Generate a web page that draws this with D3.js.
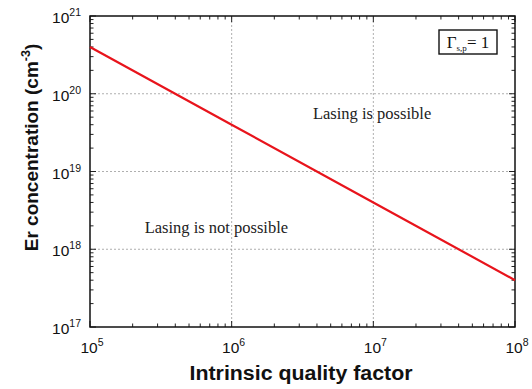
<!DOCTYPE html>
<html>
<head>
<meta charset="utf-8">
<script src="https://cdn.jsdelivr.net/npm/d3@7"></script>
<style>
  html, body { margin: 0; padding: 0; background: #fff; }
  svg { display: block; }
</style>
</head>
<body>
<svg id="chart" width="532" height="389"></svg>
<script>
// Threshold Er concentration vs intrinsic Q (log-log)
const qualityFactor = [1e5, 1e6, 1e7, 1e8];
const erConcentration = [4e20, 4e19, 4e18, 4e17];
const xDecades = [5, 6, 7, 8];
const yDecades = [17, 18, 19, 20, 21];
const regionLabels = [
  { text: "Lasing is possible", q: 9.8e6, n: 4.8e19 },
  { text: "Lasing is not possible", q: 7.8e5, n: 1.6e18 }
];

const W = 532, H = 389;
const m = { left: 90, right: 17, top: 16, bottom: 62 };
const svg = d3.select("#chart");

const x = d3.scaleLog().domain([1e5, 1e8]).range([m.left, W - m.right]);
const y = d3.scaleLog().domain([1e17, 1e21]).range([H - m.bottom, m.top]);

const x0 = x.range()[0], x1 = x.range()[1];
const y0 = y.range()[0], y1 = y.range()[1];

// minor tick values within each decade
function minorTicks(lo, hi) {
  const out = [];
  for (let e = lo; e < hi; e++) {
    for (let k = 2; k <= 9; k++) out.push(k * Math.pow(10, e));
  }
  return out;
}
const xMinor = minorTicks(5, 8);
const yMinor = minorTicks(17, 21);

// dotted grid at each decade
const grid = svg.append("g").attr("stroke", "#9a9a9a").attr("stroke-width", 0.8)
  .attr("stroke-dasharray", "2,2");
xDecades.slice(1, -1).forEach(d => {
  const px = x(Math.pow(10, d));
  grid.append("line").attr("x1", px).attr("x2", px).attr("y1", y0).attr("y2", y1);
});
yDecades.slice(1, -1).forEach(d => {
  const py = y(Math.pow(10, d));
  grid.append("line").attr("x1", x0).attr("x2", x1).attr("y1", py).attr("y2", py);
});

// inward ticks on all four sides
const ticks = svg.append("g").attr("stroke", "#222").attr("stroke-width", 1);
xMinor.forEach(v => {
  const px = x(v);
  ticks.append("line").attr("x1", px).attr("x2", px).attr("y1", y0).attr("y2", y0 - 3.5);
  ticks.append("line").attr("x1", px).attr("x2", px).attr("y1", y1).attr("y2", y1 + 3.5);
});
xDecades.forEach(d => {
  const px = x(Math.pow(10, d));
  ticks.append("line").attr("x1", px).attr("x2", px).attr("y1", y0).attr("y2", y0 - 6);
  ticks.append("line").attr("x1", px).attr("x2", px).attr("y1", y1).attr("y2", y1 + 6);
});
yMinor.forEach(v => {
  const py = y(v);
  ticks.append("line").attr("x1", x0).attr("x2", x0 + 3.5).attr("y1", py).attr("y2", py);
  ticks.append("line").attr("x1", x1).attr("x2", x1 - 3.5).attr("y1", py).attr("y2", py);
});
yDecades.forEach(d => {
  const py = y(Math.pow(10, d));
  ticks.append("line").attr("x1", x0).attr("x2", x0 + 6).attr("y1", py).attr("y2", py);
  ticks.append("line").attr("x1", x1).attr("x2", x1 - 6).attr("y1", py).attr("y2", py);
});

// frame
svg.append("rect").attr("x", x0).attr("y", y1).attr("width", x1 - x0).attr("height", y0 - y1)
  .attr("fill", "none").attr("stroke", "#111").attr("stroke-width", 1.5);

// threshold line
const line = d3.line().x((d, i) => x(qualityFactor[i])).y(d => y(d));
svg.append("path").datum(erConcentration).attr("d", line)
  .attr("fill", "none").attr("stroke", "#e8141c").attr("stroke-width", 2.2);

// tick labels: 10 with superscript exponent
const sans = "Liberation Sans, Arial, Helvetica, sans-serif";
function powerLabel(g, px, py, exp, anchor) {
  const t = g.append("text").attr("x", px).attr("y", py).attr("text-anchor", anchor)
    .attr("font-family", sans).attr("font-size", 15.5).attr("fill", "#111");
  t.append("tspan").text("10");
  t.append("tspan").attr("dy", -7).attr("font-size", 10.5).text(exp);
}
const labels = svg.append("g");
xDecades.forEach(d => powerLabel(labels, x(Math.pow(10, d)) + 2, y0 + 26, d, "middle"));
yDecades.forEach(d => powerLabel(labels, x0 - 9, y(Math.pow(10, d)) + 7, d, "end"));

// axis titles
svg.append("text").attr("x", 301).attr("y", H - 9).attr("text-anchor", "middle")
  .attr("font-family", sans).attr("font-weight", "bold").attr("font-size", 19.5).attr("fill", "#111")
  .attr("textLength", 223).attr("lengthAdjust", "spacingAndGlyphs")
  .text("Intrinsic quality factor");
const yt = svg.append("text").attr("transform", "translate(38,147.5) rotate(-90)")
  .attr("text-anchor", "middle").attr("font-family", sans).attr("font-weight", "bold")
  .attr("font-size", 19).attr("fill", "#111");
yt.append("tspan").text("Er concentration (cm");
yt.append("tspan").attr("dy", -8).attr("font-size", 12.5).text("-3");
yt.append("tspan").attr("dy", 8).text(")");

// region annotations
const serif = "Liberation Serif, Times New Roman, serif";
regionLabels.forEach(r => {
  svg.append("text").attr("x", x(r.q)).attr("y", y(r.n)).attr("text-anchor", "middle")
    .attr("font-family", serif).attr("font-size", 16.5).attr("fill", "#222").text(r.text);
});

// parameter box
const box = svg.append("g");
box.append("rect").attr("x", 439).attr("y", 30).attr("width", 58).attr("height", 24)
  .attr("fill", "#fff").attr("stroke", "#111").attr("stroke-width", 1.4);
const bt = box.append("text").attr("x", 468).attr("y", 47.5).attr("text-anchor", "middle")
  .attr("font-family", serif).attr("font-size", 17).attr("fill", "#111");
bt.append("tspan").text("Γ");
bt.append("tspan").attr("dy", 3).attr("font-size", 9).text("s,p");
bt.append("tspan").attr("dy", -3).text("= 1");
</script>
</body>
</html>
